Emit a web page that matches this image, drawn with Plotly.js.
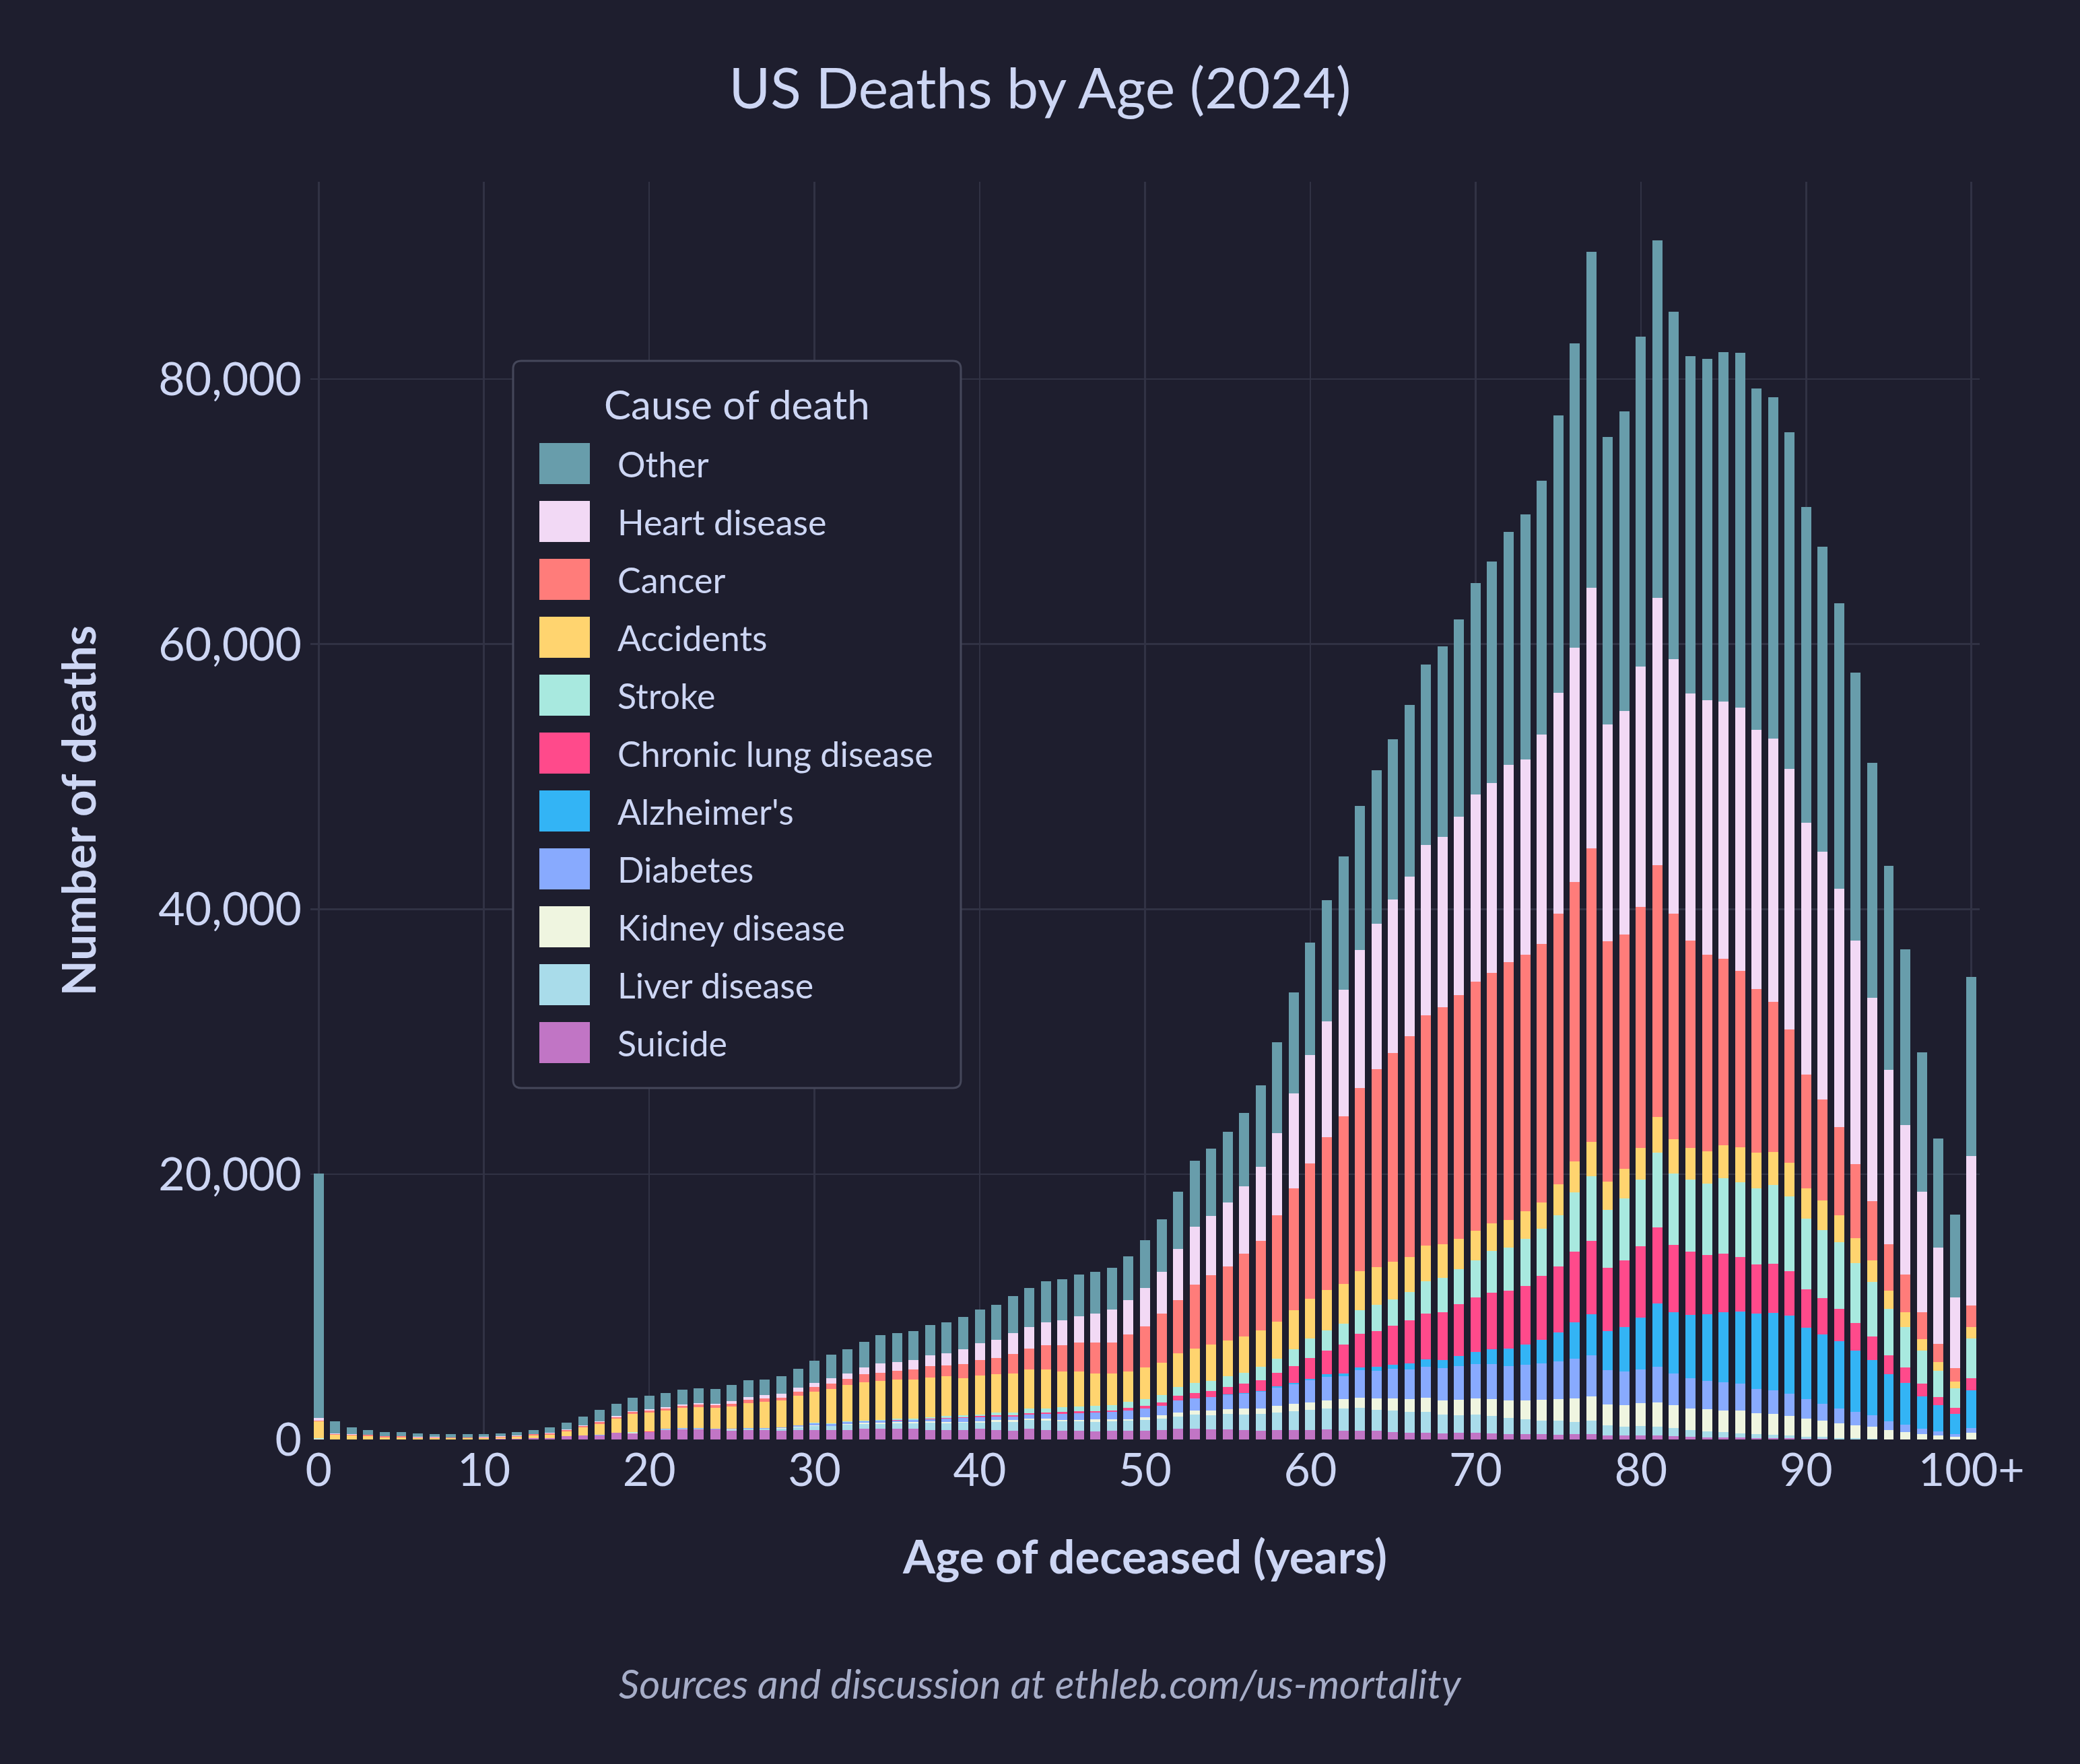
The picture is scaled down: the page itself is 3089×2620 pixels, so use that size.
<!DOCTYPE html>
<html>
<head>
<meta charset="utf-8">
<script src="https://cdn.plot.ly/plotly-3.0.1.min.js"></script>
<style>
html,body{margin:0;padding:0;background:#1e1e2e;}
#chart{width:3089px;height:2620px;}
</style>
</head>
<body>
<div id="chart"></div>
<script>
// ---------------- DATA ----------------
const ages = [0,1,2,3,4,5,6,7,8,9,10,11,12,13,14,15,16,17,18,19,20,21,22,23,24,25,26,27,28,29,30,31,32,33,34,35,36,37,38,39,40,41,42,43,44,45,46,47,48,49,50,51,52,53,54,55,56,57,58,59,60,61,62,63,64,65,66,67,68,69,70,71,72,73,74,75,76,77,78,79,80,81,82,83,84,85,86,87,88,89,90,91,92,93,94,95,96,97,98,99,100];

const tickValues = [0,10,20,30,40,50,60,70,80,90,100];
const tickLabels = ['0','10','20','30','40','50','60','70','80','90','100+'];

const suicide = [0,0,0,0,0,0,0,0,0,0,
  10,34,51,102,118,237,288,305,491,440,
  542,694,745,745,745,643,694,705,639,705,
  727,705,705,793,793,793,793,727,727,727,
  793,727,683,793,727,683,683,595,639,639,
  643,694,796,796,745,745,694,643,694,694,
  694,745,643,643,643,542,491,491,440,491,
  491,440,389,389,389,339,389,389,288,288,
  288,288,237,186,135,135,135,85,85,85,
  34,34,20,15,10,5,4,3,2,1,5];

const liver = [25,0,0,0,0,0,0,0,0,0,
  0,0,0,0,0,0,0,20,0,34,
  20,51,51,51,30,80,100,88,176,220,
  286,286,396,352,396,441,441,529,507,551,
  485,595,661,661,683,683,683,749,727,771,
  813,864,914,1066,1067,1168,1168,1270,1321,1422,
  1524,1574,1676,1727,1575,1625,1574,1574,1422,1321,
  1371,1321,1219,1118,1016,1066,915,1016,762,660,
  711,660,610,508,458,407,305,304,254,203,
  152,152,65,70,24,20,11,8,5,3,15];

const kidney = [20,0,0,0,0,0,0,0,0,0,
  0,0,0,0,0,0,0,0,0,34,
  0,20,20,20,0,30,30,30,30,40,
  50,50,60,110,88,88,88,110,88,66,
  88,132,110,110,154,132,132,176,176,132,
  203,254,305,305,355,356,457,406,508,559,
  559,610,711,762,863,914,965,1067,1067,1168,
  1219,1269,1321,1422,1575,1625,1777,1829,1574,1625,
  1727,1829,1726,1625,1676,1625,1727,1575,1574,1473,
  1372,1219,1117,965,914,669,527,378,281,182,471];

const diabetes = [0,0,0,0,0,0,0,0,0,0,
  0,0,0,0,0,0,0,30,0,0,
  0,51,51,51,20,60,50,44,55,88,
  132,110,155,110,132,110,132,154,264,286,
  308,264,264,330,352,440,485,507,529,661,
  660,711,914,914,1016,1066,1118,1270,1371,1473,
  1676,1778,1727,2082,2083,2235,2235,2336,2438,2539,
  2591,2642,2590,2692,2742,2845,2997,3115,2590,2540,
  2539,2691,2387,2286,2133,2133,2032,1828,1778,1676,
  1472,1270,1117,1015,864,660,558,407,305,203,356];

const alzheimers = [0,0,0,0,0,0,0,0,0,0,
  0,0,0,0,0,0,0,0,0,0,
  0,0,0,0,0,0,0,0,0,0,
  0,0,0,0,0,0,0,0,0,0,
  0,0,0,0,0,0,0,0,0,0,
  20,30,30,40,40,50,50,60,100,120,
  101,203,203,204,304,305,457,559,609,779,
  931,1134,1321,1523,1778,2184,2743,3115,2946,3352,
  3911,4775,4622,4774,5045,5282,5451,5689,5858,5908,
  5401,5231,5079,4622,4164,3556,3166,2455,1980,1541,2844];

const lung = [15,0,0,0,0,0,0,0,0,0,
  0,0,0,0,0,0,0,0,30,0,
  30,0,0,0,30,0,0,0,0,0,
  20,20,20,30,30,30,40,50,60,66,
  88,132,132,88,110,132,132,110,132,176,
  184,254,334,406,420,559,711,813,1016,1253,
  1575,1777,2184,2539,2692,2946,3251,3454,3606,3894,
  4097,4249,4368,4419,4825,4977,5332,5536,4775,5028,
  5384,5758,5101,4774,4453,4419,4097,3707,3690,3336,
  2878,2743,2438,2083,1778,1422,1152,948,610,440,914];

const stroke = [30,0,0,0,0,0,0,0,0,0,
  0,0,0,0,0,0,0,0,0,34,
  0,0,0,0,0,0,0,20,20,30,
  40,66,50,50,44,110,88,88,132,154,
  132,176,176,331,287,375,374,396,374,485,
  507,542,678,728,762,812,812,1015,1067,1287,
  1490,1541,1592,1778,1998,1980,2133,2438,2591,2641,
  2793,3166,3250,3577,3550,3864,4485,4854,4385,4666,
  5037,5634,5394,5444,5397,5716,5670,5750,5939,5658,
  5352,5173,5027,4537,4131,3521,3047,2505,1998,1473,3014];

const accidents = [1270,339,288,237,135,135,102,85,85,85,
  85,102,135,186,237,355,609,796,1067,1371,
  1422,1371,1524,1574,1574,1676,1879,1983,2005,2203,
  2335,2555,2731,2886,2930,2952,2952,2996,2974,2797,
  2908,2886,2974,2952,2952,2710,2622,2468,2380,2247,
  2388,2455,2522,2625,2742,2692,2743,2743,2793,2929,
  2979,3030,2980,2946,2827,2845,2641,2696,2547,2307,
  2242,2074,2082,2065,2029,2340,2338,2577,2157,2277,
  2397,2697,2577,2397,2458,2457,2637,2697,2517,2517,
  2277,2217,2037,1855,1608,1355,1117,847,643,508,846];

const cancer = [50,50,50,102,102,102,51,68,51,51,
  51,51,51,102,102,102,102,152,102,152,
  152,152,152,203,203,203,254,220,242,309,
  352,419,463,595,617,661,771,859,816,1058,
  1211,1255,1476,1608,1829,1939,2181,2335,2335,2820,
  3098,3708,4013,4825,5232,5587,6247,6754,8019,9219,
  10211,11545,12662,13831,14927,15744,16684,17390,17880,18370,
  18790,18895,19454,19349,19490,20430,21095,22174,18099,17679,
  18159,19000,17020,15642,14802,14084,13305,12345,11326,10068,
  8570,7611,6652,5634,4486,3535,2845,2031,1371,1016,1625];

const heart = [237,50,50,0,0,0,34,30,0,0,
  51,51,51,0,34,51,51,51,102,51,
  102,102,102,102,102,203,203,265,265,308,
  309,396,397,528,705,661,705,816,925,1079,
  1234,1366,1564,1587,1762,1872,2027,2181,2489,2599,
  2895,3149,3860,4334,4479,4834,5093,5599,6228,7138,
  8187,8747,9552,10392,10986,11582,12036,12842,12842,13471,
  14135,14345,14906,14731,15766,16660,17679,19657,16361,16841,
  18159,20137,19177,18638,19238,19417,19837,19537,19837,19657,
  18998,18698,17979,16840,15342,13124,11305,9116,7263,5333,11305];

const other = [18437,914,508,355,305,305,254,203,254,254,
  203,203,254,305,406,508,660,863,914,1016,
  1016,1067,1117,1117,1117,1219,1270,1145,1366,1432,
  1674,1785,1828,1917,2137,2181,2181,2291,2335,2446,
  2533,2644,2754,2952,3062,3106,3150,3150,3151,3305,
  3599,3964,4317,5003,5073,5318,5528,6158,6858,7628,
  8468,9133,10042,10882,11582,12082,12923,13593,14368,14869,
  15930,16675,17550,18485,19160,20920,22953,25350,21695,22593,
  24871,26968,26250,25471,25710,26369,26788,25770,25770,25410,
  23852,23013,21575,20196,17739,15402,13245,10488,8255,6260,13484];

// stacking order: bottom -> top
const seriesNames = ['Suicide','Liver disease','Kidney disease','Diabetes',"Alzheimer's",'Chronic lung disease','Stroke','Accidents','Cancer','Heart disease','Other'];
const seriesValues = [suicide, liver, kidney, diabetes, alzheimers, lung, stroke, accidents, cancer, heart, other];
const seriesColors = ['#c175c5','#a9dcea','#eff5e0','#88aafe','#33b4f5','#ff4a8b','#a8e9df','#ffd46f','#ff7c7a','#f2d9f5','#689dab'];

// ---------------- STYLE ----------------
const BG = '#1e1e2e';
const TXT = '#cdd6f4';
const GRID = '#313244';
const FONT = 'Lato, "Open Sans", sans-serif';

const W = 3089, H = 2620;
const M = {l:461, r:149, t:270, b:482};
const PW = W - M.l - M.r, PH = H - M.t - M.b;
const px2x = p => (p - M.l) / PW;
const py2y = p => (H - M.b - p) / PH;

const traces = seriesNames.map((name, i) => ({
  type: 'bar',
  name: name,
  x: ages,
  y: seriesValues[i],
  marker: {color: seriesColors[i], line: {width: 0}},
  hoverinfo: 'x+y+name'
}));

// custom legend (top entry = last trace)
const shapes = [];
const annotations = [];
const lx0 = 762, lx1 = 1427, ly0 = 536, ly1 = 1616, rad = 12;
const rx = rad / PW, ry = rad / PH;
const X0 = px2x(lx0), X1 = px2x(lx1), YT = py2y(ly0), YB = py2y(ly1);
shapes.push({
  type: 'path', xref: 'paper', yref: 'paper', layer: 'above',
  path: `M ${X0+rx},${YT} L ${X1-rx},${YT} Q ${X1},${YT} ${X1},${YT-ry} L ${X1},${YB+ry} Q ${X1},${YB} ${X1-rx},${YB} L ${X0+rx},${YB} Q ${X0},${YB} ${X0},${YB+ry} L ${X0},${YT-ry} Q ${X0},${YT} ${X0+rx},${YT} Z`,
  fillcolor: BG, line: {color: '#45475a', width: 3}
});
annotations.push({
  xref: 'paper', yref: 'paper', x: px2x((lx0 + lx1) / 2), y: py2y(600),
  xanchor: 'center', yanchor: 'middle', showarrow: false,
  text: 'Cause of death', font: {family: FONT, size: 60, color: TXT}
});
const order = seriesNames.map((n, i) => i).reverse();
order.forEach((idx, k) => {
  const cy = 688.6 + 86 * k;
  shapes.push({
    type: 'rect', xref: 'paper', yref: 'paper', layer: 'above',
    x0: px2x(801), x1: px2x(876), y0: py2y(cy + 30.5), y1: py2y(cy - 30.5),
    fillcolor: seriesColors[idx], line: {width: 0}
  });
  annotations.push({
    xref: 'paper', yref: 'paper', x: px2x(915), y: py2y(cy),
    xanchor: 'left', yanchor: 'middle', showarrow: false,
    text: seriesNames[idx], font: {family: FONT, size: 52, color: TXT}
  });
});
annotations.push({
  xref: 'paper', yref: 'paper', x: px2x(1545), y: py2y(2500),
  xanchor: 'center', yanchor: 'middle', showarrow: false,
  text: 'Sources and discussion at ethleb.com/us-mortality',
  font: {family: FONT, size: 60, color: '#a6adc8', style: 'italic'}
});

const layout = {
  width: W, height: H,
  paper_bgcolor: BG, plot_bgcolor: BG,
  margin: {l: M.l, r: M.r, t: M.t, b: M.b, pad: 0},
  barmode: 'stack', bargap: 0.39,
  showlegend: false,
  font: {family: FONT, color: TXT, size: 68},
  title: {
    text: 'US Deaths by Age (2024)',
    x: 0.5, xref: 'container', xanchor: 'center',
    y: 1 - 132 / H, yref: 'container', yanchor: 'middle',
    font: {family: FONT, size: 84, color: TXT}
  },
  xaxis: {
    range: [-0.5, 100.5], tickmode: 'array', tickvals: tickValues, ticktext: tickLabels,
    showgrid: true, gridcolor: GRID, gridwidth: 2.5, zeroline: false, showline: false,
    ticks: '', tickfont: {family: FONT, size: 68, color: TXT}, automargin: false,
    title: {text: 'Age of deceased (years)', font: {family: FONT, size: 69, weight: 'bold', color: TXT}, standoff: 68}
  },
  yaxis: {
    range: [0, 94880], tickmode: 'linear', tick0: 0, dtick: 20000, tickformat: ',d',
    showgrid: true, gridcolor: GRID, gridwidth: 2.5,
    zeroline: true, zerolinecolor: BG, zerolinewidth: 1, showline: false,
    ticks: '', ticklabelstandoff: 12, tickfont: {family: FONT, size: 68, color: TXT}, automargin: false,
    title: {text: 'Number of deaths', font: {family: FONT, size: 69, weight: 'bold', color: TXT}, standoff: 70}
  },
  shapes: shapes,
  annotations: annotations
};

Plotly.newPlot('chart', traces, layout, {displayModeBar: false, staticPlot: true});
</script>
</body>
</html>
